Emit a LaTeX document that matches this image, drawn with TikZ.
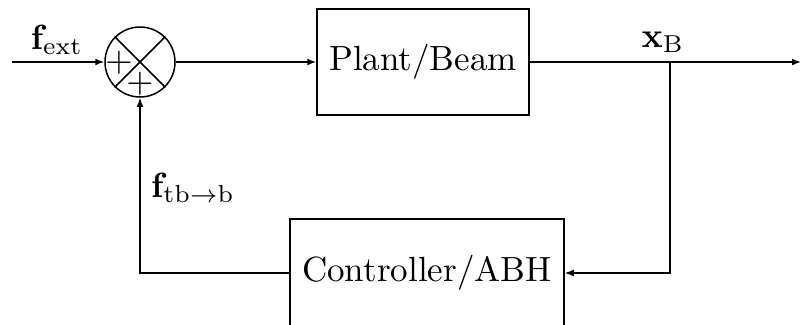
\documentclass[tikz,border=0pt]{standalone}
\usepackage{graphicx}
\usetikzlibrary{arrows.meta}
\newcommand{\bigtxt}[1]{\scalebox{3.5}{#1}}
\begin{document}
\begin{tikzpicture}[x=1pt,y=-1pt,
  blockbox/.style={draw,line width=1.5pt,inner sep=0pt},
  sumnode/.style={draw,circle,line width=1.5pt,minimum size=70pt,inner sep=0pt},
  conn/.style={line width=1.5pt},
  arr/.style={conn,-{Latex[length=9pt,width=7pt]}},
  lbl/.style={inner sep=0pt}]
\clip (0,0) rectangle (802,324);
\useasboundingbox (0,0) rectangle (802,324);
\node[sumnode] (sum) at (140,62) {};
\draw[conn] (sum.45) -- (sum.225);
\draw[conn] (sum.135) -- (sum.-45);
\node[lbl] (p1) at (119,63) {\bigtxt{$+$}};
\node[lbl] (p2) at (140,84) {\bigtxt{$+$}};
\node[blockbox,minimum width=212pt,minimum height=106pt] (plant) at (423,62) {\bigtxt{Plant/Beam}};
\node[blockbox,minimum width=274pt,minimum height=108pt] (ctrl) at (427,273) {\bigtxt{Controller/ABH}};
\coordinate (in) at (12,62);
\coordinate (out) at (801,62);
\coordinate (br) at (670,62);
\draw[arr] (in) -- (sum.west);
\draw[arr] (sum.east) -- (plant.west);
\draw[arr] (plant.east) -- (out);
\draw[arr] (br) |- (ctrl.east);
\draw[arr] (ctrl.west) -| (sum.south);
\node[lbl] (fext) at (57,40) {\bigtxt{$\mathbf{f}_{\mathrm{ext}}$}};
\node[lbl] (xb) at (663,42) {\bigtxt{$\mathbf{x}_{\mathrm{B}}$}};
\node[lbl] (ftb) at (193,188) {\bigtxt{$\mathbf{f}_{\mathrm{tb}\rightarrow\mathrm{b}}$}};
\end{tikzpicture}
\end{document}
